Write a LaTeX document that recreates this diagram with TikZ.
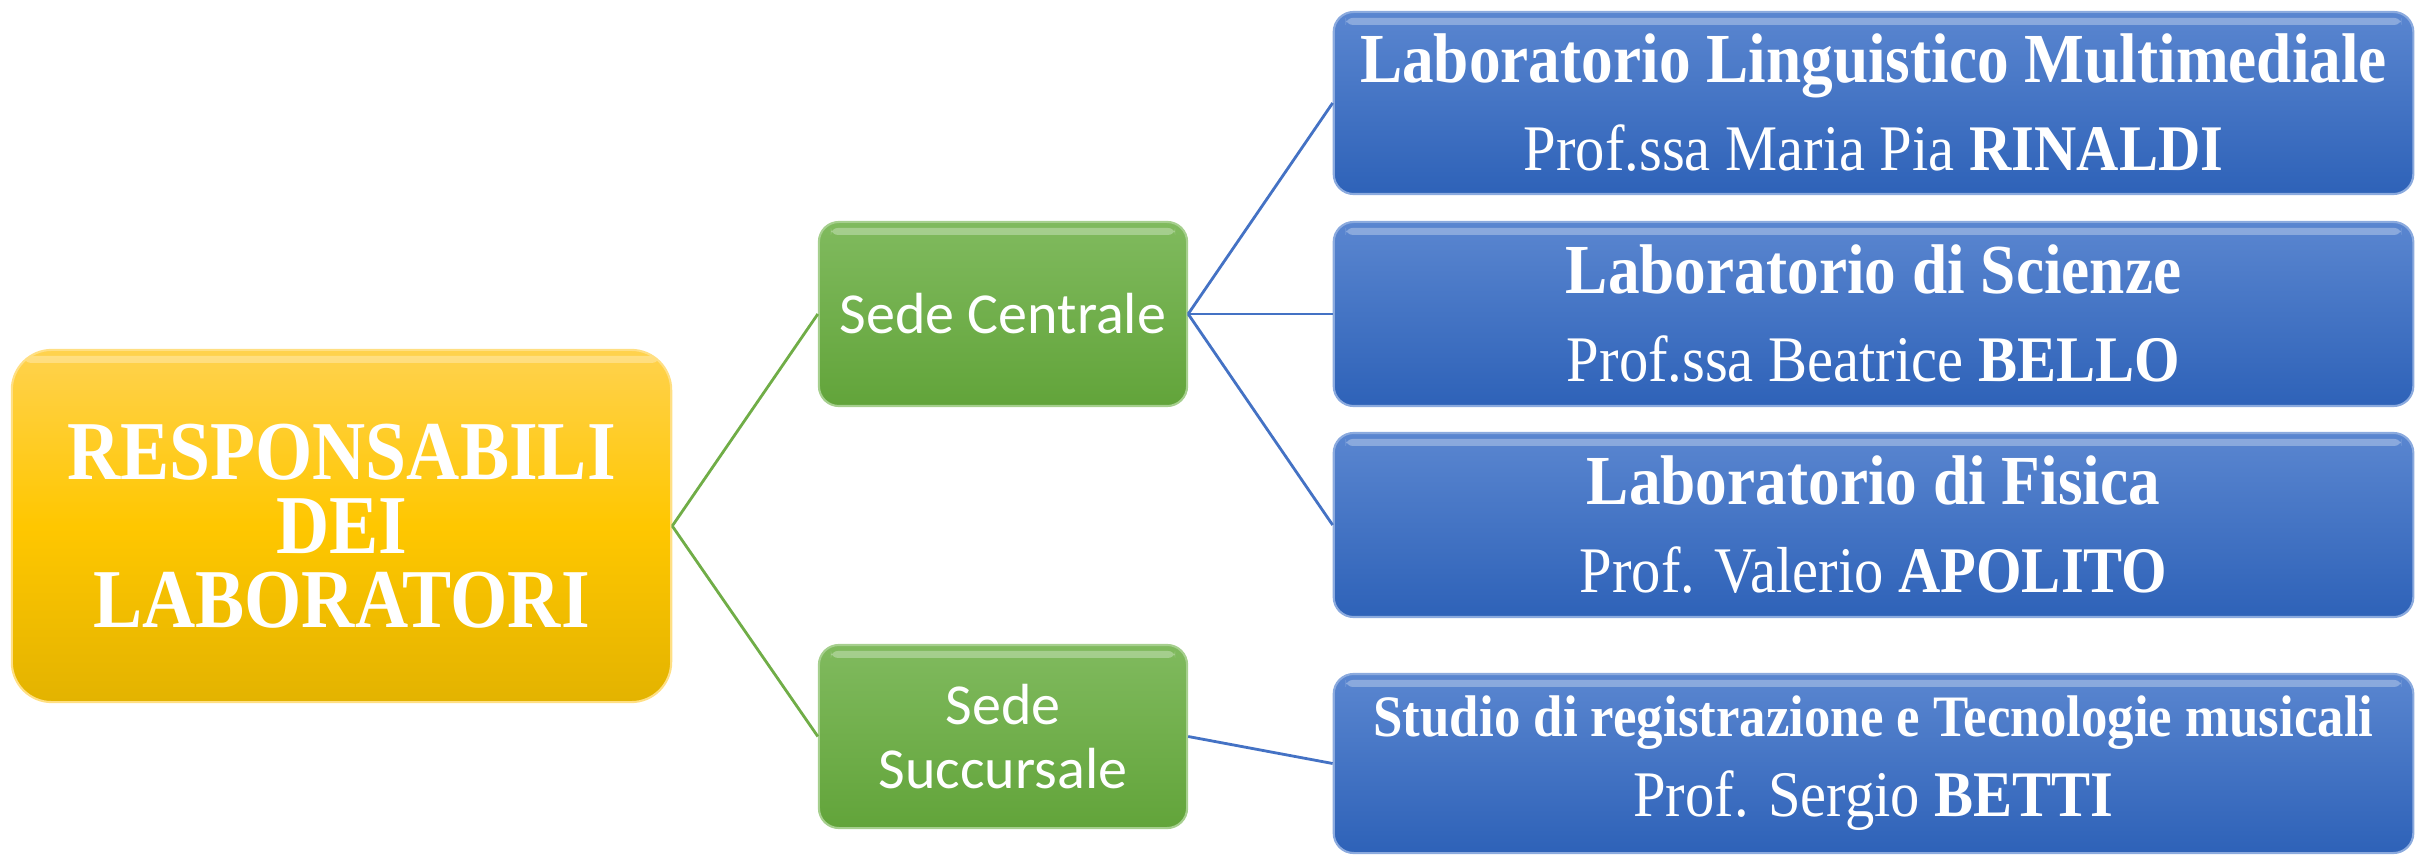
\documentclass[tikz,border=0pt]{standalone}
\usepackage{fontspec}
\newfontfamily\tnr[FakeStretch=0.9]{Liberation Serif}
\newfontfamily\tnrroot[FakeStretch=0.88]{Liberation Serif}
\newfontfamily\calfont{Carlito}
\definecolor{ytop}{HTML}{FFD24E}
\definecolor{ymid}{HTML}{FFC700}
\definecolor{ybot}{HTML}{E3B300}
\definecolor{gtop}{HTML}{80BA5E}
\definecolor{gbot}{HTML}{62A43A}
\definecolor{btop}{HTML}{5A86D0}
\definecolor{bbot}{HTML}{2E62B8}
\definecolor{gline}{HTML}{70AD47}
\definecolor{bline}{HTML}{4472C4}
\tikzset{
  gloss/.style={path picture={
    \fill[white,opacity=0.3,rounded corners=2pt]
      ([xshift=0.12cm,yshift=-0.06cm]path picture bounding box.north west)
      rectangle ([xshift=-0.12cm,yshift=-0.13cm]path picture bounding box.north east);}},
  rootbox/.style={rectangle, rounded corners=0.4cm, draw=ytop!70!white, line width=0.6pt,
    top color=ytop, bottom color=ybot, middle color=ymid, gloss,
    minimum width=6.59cm, minimum height=3.52cm, inner sep=0pt, align=center,
    text=white, font=\tnrroot\bfseries\fontsize{23.8}{21}\selectfont},
  sedebox/.style={rectangle, rounded corners=0.2cm, draw=gtop!70!white, line width=0.6pt,
    top color=gtop, bottom color=gbot, gloss,
    minimum width=3.68cm, minimum height=1.84cm, inner sep=0pt, align=center,
    text=white, font=\calfont\fontsize{16.5}{18}\selectfont},
  labbox/.style={rectangle, rounded corners=0.2cm, draw=btop!70!white, line width=0.6pt,
    top color=btop, bottom color=bbot, gloss,
    minimum width=10.79cm, minimum height=1.84cm, inner sep=0pt, align=center,
    text=white, font=\tnr\fontsize{20}{25}\selectfont},
  gconn/.style={draw=gline, line width=0.8pt},
  bconn/.style={draw=bline, line width=0.8pt}
}
\begin{document}
\begin{tikzpicture}[x=0.01cm,y=-0.01cm]
\useasboundingbox (0,0) rectangle (2418,855);
\node[rootbox] (root) at (341.5,526) {RESPONSABILI\\DEI\\LABORATORI};
\node[sedebox] (sc) at (1003,314) {Sede Centrale};
\node[sedebox, minimum height=1.83cm] (ss) at (1003,736.5) {Sede\\Succursale};
\node[labbox, minimum height=1.82cm] (b1) at (1873.5,103)
  {{\bfseries Laboratorio Linguistico Multimediale}\\{\fontsize{18.5}{25}\selectfont Prof.ssa Maria Pia \textbf{RINALDI}}};
\node[labbox] (b2) at (1873.5,314)
  {{\bfseries Laboratorio di Scienze}\\{\fontsize{18.5}{25}\selectfont Prof.ssa Beatrice \textbf{BELLO}}};
\node[labbox] (b3) at (1873.5,525)
  {{\bfseries Laboratorio di Fisica}\\{\fontsize{18.5}{25}\selectfont Prof. Valerio \textbf{APOLITO}}};
\node[labbox, minimum height=1.79cm, font=\tnr\fontsize{18.5}{22.8}\selectfont] (b4) at (1873.5,763.5)
  {{\bfseries\fontsize{16.7}{22.8}\selectfont Studio di registrazione e Tecnologie musicali}\\Prof. Sergio \textbf{BETTI}};
\draw[gconn] (root.east) -- (sc.west);
\draw[gconn] (root.east) -- (ss.west);
\draw[bconn] (sc.east) -- (b1.west);
\draw[bconn] (sc.east) -- (b2.west);
\draw[bconn] (sc.east) -- (b3.west);
\draw[bconn] (ss.east) -- (b4.west);
\end{tikzpicture}
\end{document}
